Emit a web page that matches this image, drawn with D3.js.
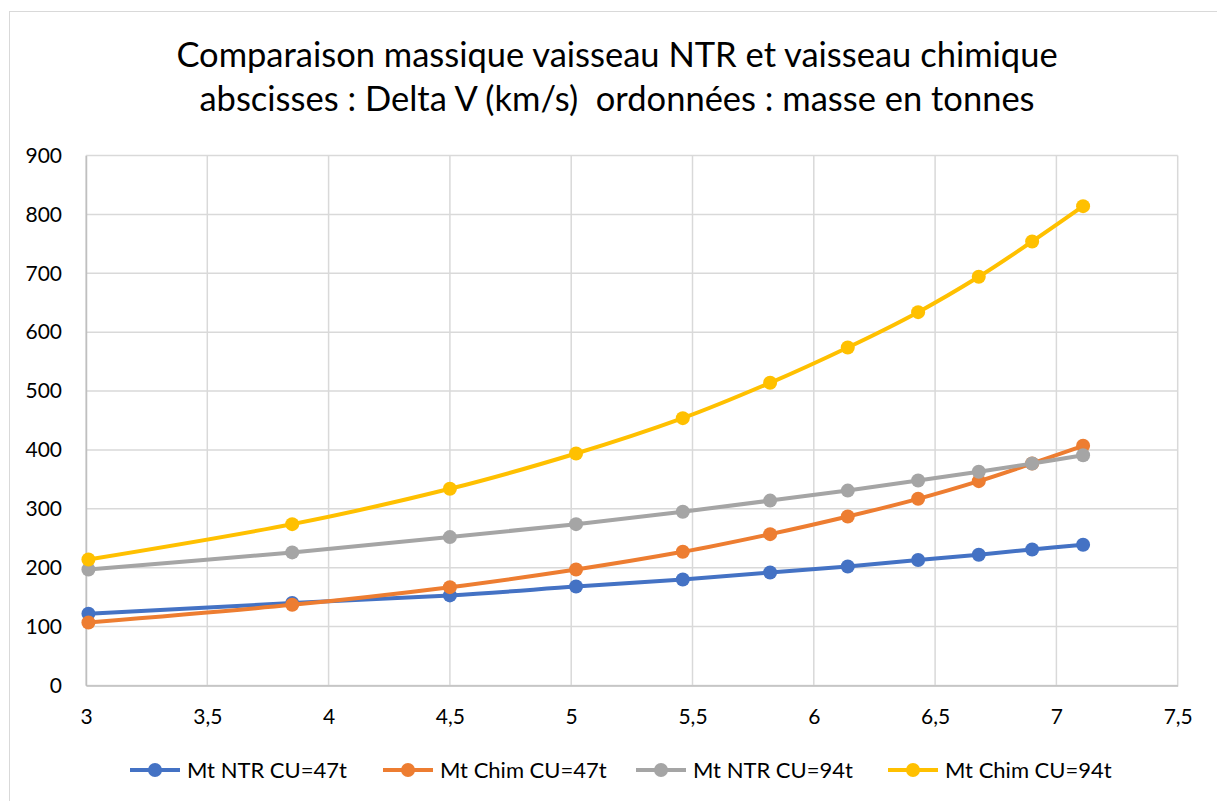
<!DOCTYPE html>
<html>
<head>
<meta charset="utf-8">
<script src="https://cdn.jsdelivr.net/npm/d3@7"></script>
<style>
  body { margin: 0; background: #fff; }
  svg { display: block; font-family: Lato, "Open Sans", sans-serif; }
</style>
</head>
<body>
<svg id="chart" width="1217" height="801"></svg>
<script>
// Delta V (km/s), shared by every series
const deltaV = [3.01, 3.85, 4.5, 5.02, 5.46, 5.82, 6.14, 6.43, 6.68, 6.9, 7.11];
// masses in tonnes
const ntr47 = [122, 140, 153, 168, 180, 192, 202, 213, 222, 231, 239];
const chim47 = [107, 137, 167, 197, 227, 257, 287, 317, 347, 377, 407];
const ntr94 = [197, 226, 252, 274, 295, 314, 331, 348, 363, 377, 391];
const chim94 = [214, 274, 334, 394, 454, 514, 574, 634, 694, 754, 814];

const seriesNames = ["Mt NTR CU=47t", "Mt Chim CU=47t", "Mt NTR CU=94t", "Mt Chim CU=94t"];
const seriesValues = [ntr47, chim47, ntr94, chim94];
const seriesColors = ["#4472C4", "#ED7D31", "#A5A5A5", "#FFC000"];

const titleLines = [
    "Comparaison massique vaisseau NTR et vaisseau chimique",
    "abscisses : Delta V (km/s)  ordonnées : masse en tonnes"
];
const xTicks = [3, 3.5, 4, 4.5, 5, 5.5, 6, 6.5, 7, 7.5];
const yTicks = [0, 100, 200, 300, 400, 500, 600, 700, 800, 900];

const margin = { top: 155.5, right: 39.3, bottom: 115.5, left: 86 };
const width = 1217, height = 801;

const svg = d3.select("#chart");

// outer chart border
svg.append("rect")
    .attr("x", 9.5).attr("y", 11.5)
    .attr("width", width).attr("height", height)
    .attr("fill", "#fff")
    .attr("stroke", "#d9d9d9")
    .attr("stroke-width", 1);

const x = d3.scaleLinear([3, 7.5], [margin.left, width - margin.right]);
const y = d3.scaleLinear([0, 900], [height - margin.bottom, margin.top]);

// title
svg.append("g")
    .attr("text-anchor", "middle")
    .attr("font-size", 34.5)
    .attr("fill", "#000")
    .selectAll("text")
    .data(titleLines)
    .join("text")
    .attr("x", 617)
    .attr("y", (d, i) => 67 + i * 44)
    .attr("xml:space", "preserve")
    .text(d => d);

// gridlines
svg.append("g")
    .attr("stroke", "#d9d9d9")
    .attr("stroke-width", 1.5)
    .call(g => g.selectAll("line.h")
        .data(yTicks)
        .join("line")
        .attr("class", "h")
        .attr("x1", x(3)).attr("x2", x(7.5))
        .attr("y1", d => y(d)).attr("y2", d => y(d)))
    .call(g => g.selectAll("line.v")
        .data(xTicks)
        .join("line")
        .attr("class", "v")
        .attr("x1", d => x(d)).attr("x2", d => x(d))
        .attr("y1", y(0)).attr("y2", y(900)));

// axes
const xAxis = svg.append("g")
    .attr("transform", `translate(0,${y(0)})`)
    .call(d3.axisBottom(x).tickValues(xTicks).tickSize(0).tickPadding(24)
        .tickFormat(d => String(d).replace(".", ",")))
    .attr("font-family", null)
    .attr("font-size", 21);
xAxis.select(".domain").attr("stroke", "#bfbfbf").attr("stroke-width", 1.5);
xAxis.selectAll("text").attr("fill", "#000");

const yAxis = svg.append("g")
    .attr("transform", `translate(${x(3)},0)`)
    .call(d3.axisLeft(y).tickValues(yTicks).tickSize(0).tickPadding(24))
    .attr("font-family", null)
    .attr("font-size", 21);
yAxis.select(".domain").attr("stroke", "#bfbfbf").attr("stroke-width", 1.5);
yAxis.selectAll("text").attr("fill", "#000");

// series
const line = d3.line()
    .x((d, i) => x(deltaV[i]))
    .y(d => y(d))
    .curve(d3.curveCatmullRom.alpha(0));

const series = svg.append("g")
    .selectAll("g")
    .data(seriesValues)
    .join("g");

series.append("path")
    .attr("fill", "none")
    .attr("stroke", (d, i) => seriesColors[i])
    .attr("stroke-width", 4)
    .attr("stroke-linejoin", "round")
    .attr("stroke-linecap", "round")
    .attr("d", d => line(d));

series.each(function(vals, si) {
    d3.select(this).selectAll("circle")
        .data(vals)
        .join("circle")
        .attr("cx", (d, i) => x(deltaV[i]))
        .attr("cy", d => y(d))
        .attr("r", 7)
        .attr("fill", seriesColors[si]);
});

// legend
const legendX = [130, 383, 636, 888];
const legend = svg.append("g")
    .attr("transform", "translate(0,770)")
    .selectAll("g")
    .data(seriesNames)
    .join("g")
    .attr("transform", (d, i) => `translate(${legendX[i]},0)`);

legend.append("line")
    .attr("x1", 0).attr("x2", 50)
    .attr("stroke", (d, i) => seriesColors[i])
    .attr("stroke-width", 4);
legend.append("circle")
    .attr("cx", 25)
    .attr("r", 7)
    .attr("fill", (d, i) => seriesColors[i]);
legend.append("text")
    .attr("x", 57)
    .attr("dy", "0.35em")
    .attr("font-size", 22)
    .attr("fill", "#000")
    .text(d => d);
</script>
</body>
</html>
